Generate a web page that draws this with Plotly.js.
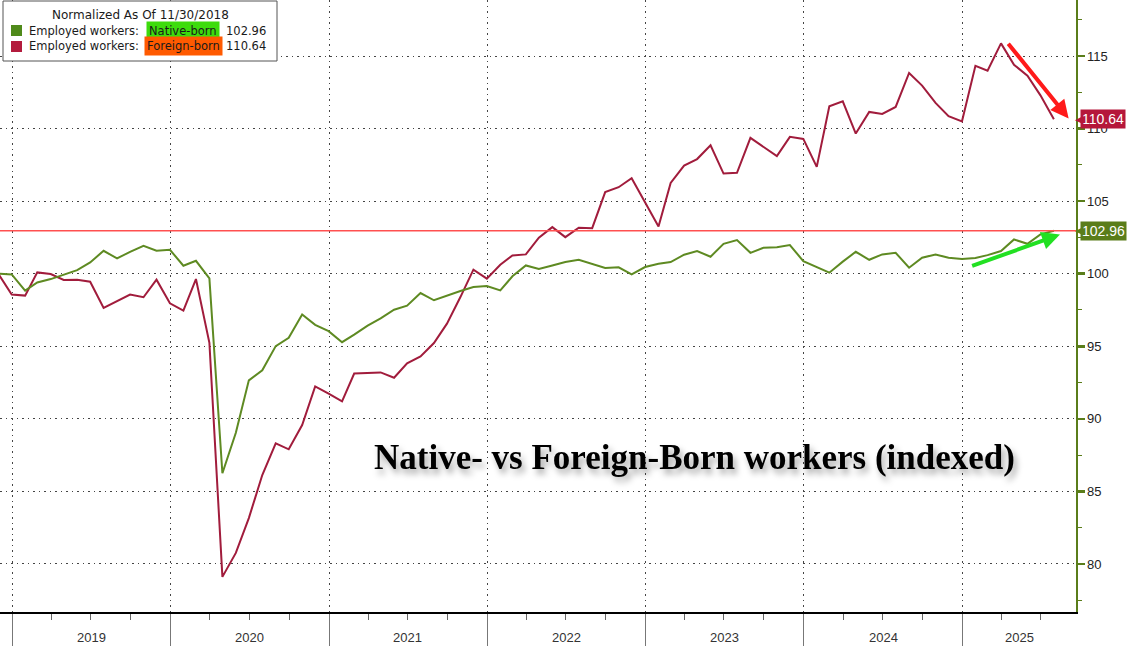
<!DOCTYPE html>
<html><head><meta charset="utf-8">
<script src="https://cdn.plot.ly/plotly-3.0.1.min.js"></script>
<style>html,body{margin:0;padding:0;background:#fff;}#chart{width:1127px;height:646px;}</style>
</head><body><div id="chart"></div>
<script>
// ---- data (monthly, month-end, normalized to 100 as of 11/30/2018) ----
const startYear = 2018, startMonth = 11;
const nativeBorn = [
  100.0, 99.95,
  98.83, 99.4, 99.63, 99.93, 100.25, 100.78, 101.58, 101.05, 101.51, 101.92, 101.58, 101.65,
  100.55, 100.89, 99.68, 86.25, 89.04, 92.65, 93.34, 95.01, 95.58, 97.19, 96.48, 96.04,
  95.28, 95.8, 96.42, 96.92, 97.52, 97.8, 98.67, 98.17, 98.51, 98.81, 99.08, 99.15,
  98.85, 99.82, 100.57, 100.32, 100.57, 100.8, 100.96, 100.69, 100.39, 100.44, 99.95, 100.46,
  100.69, 100.8, 101.31, 101.56, 101.17, 102.06, 102.32, 101.44, 101.79, 101.83, 101.97, 100.87,
  100.46, 100.07, 100.83, 101.51, 100.96, 101.33, 101.44, 100.41, 101.1, 101.33, 101.1, 101.01,
  101.08, 101.28, 101.56, 102.36, 102.06, 102.71, 102.96
];
const foreignBorn = [
  100.0, 98.56,
  98.49, 100.09, 99.98, 99.57, 99.59, 99.45, 97.64, 98.1, 98.56, 98.38, 99.59, 97.96,
  97.46, 99.63, 95.24, 79.11, 80.76, 83.16, 86.13, 88.31, 87.9, 89.57, 92.24, 91.74,
  91.2, 93.12, 93.18, 93.2, 92.83, 93.83, 94.3, 95.22, 96.56, 98.39, 100.28, 99.66,
  100.62, 101.26, 101.33, 102.48, 103.21, 102.52, 103.17, 103.14, 105.62, 105.96, 106.58, 104.93,
  103.26, 106.26, 107.45, 107.9, 108.85, 106.9, 106.95, 109.36, 108.72, 108.1, 109.43, 109.29,
  107.36, 111.54, 111.88, 109.66, 111.15, 111.01, 111.49, 113.83, 112.96, 111.77, 110.85, 110.5,
  114.33, 113.99, 115.87, 114.4, 113.65, 112.29, 110.64
];
const yearLabels = ['2019','2020','2021','2022','2023','2024','2025'];
const yTicks = [80, 85, 90, 95, 100, 105, 110, 115];
const seriesNames = ['Native-born', 'Foreign-born'];

// ---- helpers ----
function monthEnd(y, m) { return new Date(Date.UTC(y, m, 0)).toISOString().slice(0, 10); }
const dates = nativeBorn.map((_, i) => {
  const mm = startMonth - 1 + i;
  return monthEnd(startYear + Math.floor(mm / 12), (mm % 12) + 1);
});
const xRange = ['2018-12-04', '2025-09-20'];
const yRange = [76.69, 118.86];
const W = 1076, H = 612;
const px = x => x / W, py = y => 1 - y / H;

const yearStarts = yearLabels.map(y => y + '-01-01');
const endMs = Date.parse(xRange[1]);
const yearMids = yearLabels.map(y => {
  const a = Date.UTC(+y, 0, 1), b = Math.min(Date.UTC(+y + 1, 0, 1), endMs);
  return new Date((a + b) / 2).toISOString().slice(0, 10);
});

const lastN = nativeBorn[nativeBorn.length - 1];
const lastF = foreignBorn[foreignBorn.length - 1];
const GREEN = '#5e8a22', RED = '#a11c3c';

const traces = [
  {x: dates, y: foreignBorn, type: 'scatter', mode: 'lines', name: seriesNames[1],
   line: {color: RED, width: 2}, hoverinfo: 'skip'},
  {x: dates, y: nativeBorn, type: 'scatter', mode: 'lines', name: seriesNames[0],
   line: {color: GREEN, width: 2}, hoverinfo: 'skip'}
];

const legFont = {family: 'DejaVu Sans', size: 11.5, color: '#1a1a1a'};
const annotations = [];
yearLabels.forEach((t, i) => annotations.push({
  xref: 'x', yref: 'paper', x: yearMids[i], y: -(637 - 612) / H, yanchor: 'middle',
  text: t, showarrow: false, font: {family: 'Liberation Sans', size: 13, color: '#333'}
}));
annotations.push(
  {xref: 'paper', yref: 'paper', x: px(140), y: py(15), xanchor: 'center', yanchor: 'middle',
   text: 'Normalized As Of 11/30/2018', showarrow: false,
   font: {family: 'DejaVu Sans', size: 12, color: '#1a1a1a'}},
  {xref: 'paper', yref: 'paper', x: px(27), y: py(31), xanchor: 'left', yanchor: 'middle',
   text: 'Employed workers:', showarrow: false, font: legFont},
  {xref: 'paper', yref: 'paper', x: px(146), y: py(31), xanchor: 'left', yanchor: 'middle',
   text: seriesNames[0], showarrow: false, font: legFont, bgcolor: '#3ddc0c', borderpad: 2},
  {xref: 'paper', yref: 'paper', x: px(268), y: py(31), xanchor: 'right', yanchor: 'middle',
   text: lastN.toFixed(2), showarrow: false, font: legFont},
  {xref: 'paper', yref: 'paper', x: px(27), y: py(46.5), xanchor: 'left', yanchor: 'middle',
   text: 'Employed workers:', showarrow: false, font: legFont},
  {xref: 'paper', yref: 'paper', x: px(144), y: py(46.5), xanchor: 'left', yanchor: 'middle',
   text: seriesNames[1], showarrow: false, font: legFont, bgcolor: '#ff5a00', borderpad: 2},
  {xref: 'paper', yref: 'paper', x: px(268), y: py(46.5), xanchor: 'right', yanchor: 'middle',
   text: lastF.toFixed(2), showarrow: false, font: legFont}
);
const titleText = 'Native- vs Foreign-Born workers (indexed)';
annotations.push(
  {xref: 'paper', yref: 'paper', x: px(694), y: py(457), xanchor: 'center', yanchor: 'middle',
   text: titleText, showarrow: false, name: 'bigtitle',
   font: {family: 'Liberation Serif', size: 35, weight: 'bold', color: '#000'}}
);
[[lastF, '#b5173a'], [lastN, '#5a7d1a']].forEach(([v, c]) => {
  annotations.push(
    {xref: 'paper', yref: 'y', x: 1, y: v, xanchor: 'left', yanchor: 'middle', xshift: 4,
     text: v.toFixed(2), showarrow: false, bgcolor: c, borderpad: 1,
     font: {family: 'Liberation Sans', size: 14, color: '#fff'}},
    {xref: 'paper', yref: 'y', x: 1, y: v, xanchor: 'left', yanchor: 'middle', xshift: -3,
     text: '◀', showarrow: false, font: {family: 'DejaVu Sans', size: 11, color: c}}
  );
});
annotations.push(
  {xref: 'x', yref: 'y', axref: 'x', ayref: 'y', x: '2025-09-03', y: 110.7,
   ax: '2025-04-14', ay: 115.95, text: '', showarrow: true, arrowhead: 2, arrowsize: 0.9,
   arrowwidth: 4, arrowcolor: '#ff1a1a'},
  {xref: 'x', yref: 'y', axref: 'x', ayref: 'y', x: '2025-08-14', y: 102.7,
   ax: '2025-01-20', ay: 100.5, text: '', showarrow: true, arrowhead: 2, arrowsize: 0.9,
   arrowwidth: 4, arrowcolor: '#22e022'}
);

const shapes = [
  {type: 'line', xref: 'paper', yref: 'y', x0: 0, x1: 1, y0: lastN, y1: lastN,
   line: {color: '#ff5050', width: 1.5}, layer: 'above'},
  {type: 'rect', xref: 'paper', yref: 'paper', x0: px(3), x1: px(277), y0: py(61), y1: py(1),
   line: {color: '#555', width: 1}, fillcolor: '#fff', layer: 'above'},
  {type: 'rect', xref: 'paper', yref: 'paper', x0: px(11), x1: px(22), y0: py(36), y1: py(25),
   line: {width: 0}, fillcolor: '#4f8a1a', layer: 'above'},
  {type: 'rect', xref: 'paper', yref: 'paper', x0: px(11), x1: px(22), y0: py(52), y1: py(41),
   line: {width: 0}, fillcolor: '#b31b3d', layer: 'above'}
];

const gridDash = '1.5px,4px';
const layout = {
  width: 1127, height: 646,
  margin: {l: 0, r: 51, t: 0, b: 34, pad: 0},
  paper_bgcolor: '#fff', plot_bgcolor: '#fff',
  showlegend: false,
  xaxis: {
    type: 'date', range: xRange, tickmode: 'array', tickvals: yearStarts,
    showticklabels: false, ticks: 'outside', ticklen: 34, tickcolor: '#777', tickwidth: 1,
    showgrid: true, gridcolor: '#444', griddash: gridDash, gridwidth: 1,
    showline: true, linecolor: '#000', linewidth: 1.5, zeroline: false,
    minor: {tickmode: 'linear', tick0: '2019-01-01', dtick: 'M3', ticks: 'outside',
            ticklen: 6, tickcolor: '#666', tickwidth: 1, showgrid: false},
    fixedrange: true
  },
  yaxis: {
    side: 'right', range: yRange, tickmode: 'array', tickvals: yTicks,
    ticks: 'outside', ticklen: 7, tickwidth: 2.5, tickcolor: '#5a7d1a',
    showgrid: true, gridcolor: '#444', griddash: gridDash, gridwidth: 1,
    showline: true, linecolor: '#5a7d1a', linewidth: 1.5, zeroline: false,
    tickfont: {family: 'Liberation Sans', size: 13, color: '#222'},
    minor: {tickmode: 'linear', tick0: 77.5, dtick: 5, ticks: 'outside', ticklen: 4,
            tickcolor: '#5a7d1a', tickwidth: 1, showgrid: false},
    fixedrange: true
  },
  shapes: shapes,
  annotations: annotations
};

Plotly.newPlot('chart', traces, layout, {staticPlot: true, displayModeBar: false}).then(gd => {
  document.querySelectorAll('#chart .annotation-text').forEach(t => {
    if (t.textContent === titleText) {
      t.style.filter = 'drop-shadow(3px 5px 3px rgba(0,0,0,0.35))';
    }
  });
});
</script>
</body></html>
